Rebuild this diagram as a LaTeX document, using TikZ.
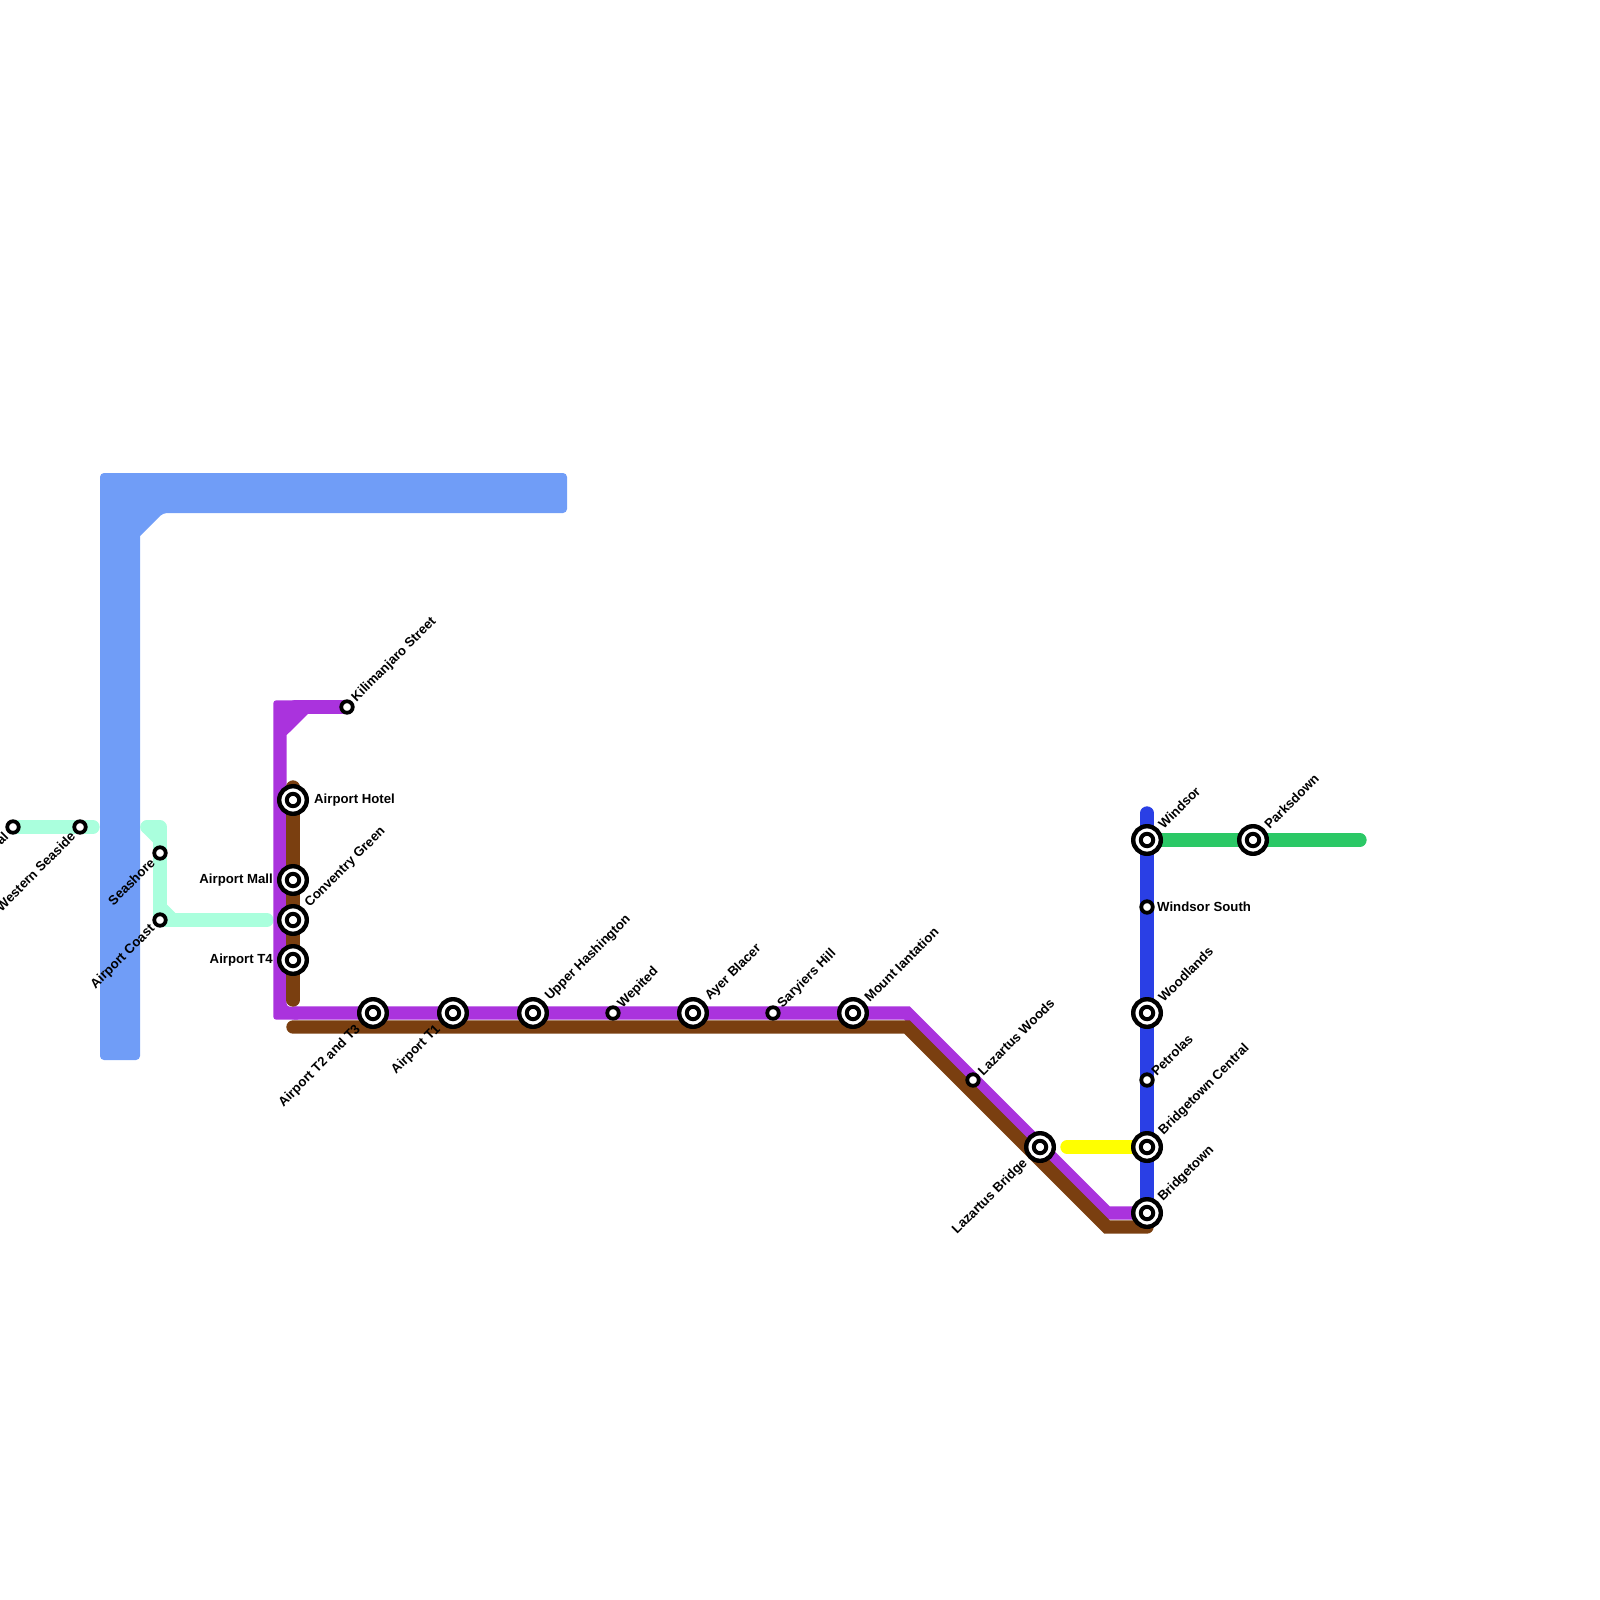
\documentclass[tikz,border=0pt]{standalone}
\usepackage{fontspec}
\usetikzlibrary{calc}
\setmainfont{Liberation Sans}
\definecolor{cblue}{HTML}{709DF7}
\definecolor{cmint}{HTML}{AAFFDD}
\definecolor{cpurple}{HTML}{AA33DD}
\definecolor{cbrown}{HTML}{7A3F10}
\definecolor{cdblue}{HTML}{2A3FE5}
\definecolor{cgreen}{HTML}{2BC866}
\definecolor{cyel}{HTML}{FFFF00}
\pgfdeclarelayer{bg}
\pgfsetlayers{bg,main}
\tikzset{
 route/.style={line width=13.33pt,line cap=round,line join=miter},
 big/.style={circle,draw=black,fill=white,line width=4.4pt,minimum size=27.6pt,inner sep=0pt,
   path picture={\draw[line width=4pt] (path picture bounding box.center) circle (6.2pt);}},
 small/.style={circle,draw=black,fill=white,line width=3.8pt,minimum size=11.5pt,inner sep=0pt},
 lab/.style={font=\bfseries\fontsize{13.2pt}{14pt}\selectfont,inner sep=0pt,text=black},
 ur/.style={lab,rotate=45,anchor=west},
 dl/.style={lab,rotate=45,anchor=east},
}
\begin{document}
\begin{tikzpicture}[x=1pt,y=-1pt]
\useasboundingbox (0,0) rectangle (1600,1600);
\node[small] (w0) at (13,827) {};
\node[small] (w1) at (80,827) {};
\node[small] (sea) at (160,853) {};
\node[small] (ac) at (160,920) {};
\node[big] (ah) at (293,800) {};
\node[big] (am) at (293,880) {};
\node[big] (cg) at (293,920) {};
\node[big] (t4) at (293,960) {};
\node[big] (t2) at (373,1013) {};
\node[big] (t1) at (453,1013) {};
\node[big] (uh) at (533,1013) {};
\node[small] (wp) at (613,1013) {};
\node[big] (ay) at (693,1013) {};
\node[small] (sh) at (773,1013) {};
\node[big] (mi) at (853,1013) {};
\node[small] (lw) at (973,1080) {};
\node[big] (lb) at (1040,1147) {};
\node[big] (bt) at (1147,1213) {};
\node[big] (bc) at (1147,1147) {};
\node[small] (pe) at (1147,1080) {};
\node[big] (wl) at (1147,1013) {};
\node[small] (ws) at (1147,907) {};
\node[big] (wi) at (1147,840) {};
\node[big] (pd) at (1253,840) {};
\node[small] (ki) at (347,707) {};
\coordinate (me) at (93,827);
\coordinate (ms) at (147,827);
\coordinate (mt) at (160,827);
\coordinate (mc) at (160,920);
\coordinate (mf) at (267,920);
\coordinate (dt) at (1147,813);
\coordinate (ge) at (1360,840);
\coordinate (ye) at (1067,1147);
\coordinate (pt) at (295,707);
\coordinate (pb) at (295,1013);
\coordinate (pc1) at (907,1013);
\coordinate (pc2) at (1107,1213);
\coordinate (bb) at (293,1027);
\coordinate (bc1) at (907,1027);
\coordinate (bc2) at (1107,1227);
\coordinate (be) at (1147,1227);
\coordinate (bt0) at (293,787);
\coordinate (bt1) at (293,1000);
\begin{pgfonlayer}{bg}
\fill[cblue,rounded corners=4pt] (100,1060) -- (100,473) -- (567,473) -- (567,513) -- (163,513) [sharp corners] -- (140,536) [rounded corners=4pt] -- (140,1060) -- cycle;
\draw[route,cmint] (w0.center) -- (me);
\draw[route,cmint,line join=round] (ms) -- (mt) -- (mc) -- (mf);
\draw[route,cmint] (ms) -- (160,840);
\draw[route,cmint,line cap=butt] (160,907) -- (173,920);
\draw[route,cgreen] (wi.center) -- (ge);
\draw[route,cyel] (ye) -- (bc.center);
\draw[route,cdblue] (dt) -- (bt.center);
\fill[cpurple,rounded corners=3pt] (309,700.3) -- (273.3,700.3) -- (273.3,1019.7) -- (300,1019.7) -- (300,1006.7) -- (286.7,1006.7) [sharp corners] -- (286.7,735) -- (309,713) -- cycle;
\draw[route,cpurple] (ki.center) -- (pt);
\draw[route,cpurple] (pb) -- (pc1) -- (pc2) -- (bt.center);
\draw[route,cbrown] (bt0) -- (bt1);
\draw[route,cbrown] (bb) -- (bc1) -- (bc2) -- (be);
\end{pgfonlayer}
\node[dl] (l0) at ($(w0)+(-7,7)$) {al};
\node[dl] (l1) at ($(w1)+(-7,7)$) {Western Seaside};
\node[dl] (l2) at ($(sea)+(-7.5,7.5)$) {Seashore};
\node[dl] (l3) at ($(ac)+(-7,7)$) {Airport Coast};
\node[lab,anchor=west] (l4) at ($(ah)+(21,0)$) {Airport Hotel};
\node[lab,anchor=east] (l5) at ($(am)+(-20,0)$) {Airport Mall};
\node[ur] (l6) at ($(cg)+(14.5,-14.5)$) {Conventry Green};
\node[lab,anchor=east] (l7) at ($(t4)+(-20,0)$) {Airport T4};
\node[dl] (l8) at ($(t2)+(-14.5,14.5)$) {Airport T2 and T3};
\node[dl] (l9) at ($(t1)+(-14.5,14.5)$) {Airport T1};
\node[ur] (l10) at ($(uh)+(14.5,-14.5)$) {Upper Hashington};
\node[ur] (l11) at ($(wp)+(7,-7)$) {Wepited};
\node[ur] (l12) at ($(ay)+(14.5,-14.5)$) {Ayer Blacer};
\node[ur] (l13) at ($(sh)+(7,-7)$) {Saryiers Hill};
\node[ur] (l14) at ($(mi)+(13.5,-13.5)$) {Mount Iantation};
\node[ur] (l15) at ($(lw)+(7,-7)$) {Lazartus Woods};
\node[dl] (l16) at ($(lb)+(-14.5,14.5)$) {Lazartus Bridge};
\node[ur] (l17) at ($(bt)+(13.5,-13.5)$) {Bridgetown};
\node[ur] (l18) at ($(bc)+(14,-14)$) {Bridgetown Central};
\node[ur] (l19) at ($(pe)+(6.5,-6.5)$) {Petrolas};
\node[ur] (l20) at ($(wl)+(13.5,-13.5)$) {Woodlands};
\node[lab,anchor=west] (l21) at ($(ws)+(10,0)$) {Windsor South};
\node[ur] (l22) at ($(wi)+(13.5,-13.5)$) {Windsor};
\node[ur] (l23) at ($(pd)+(13.5,-13.5)$) {Parksdown};
\node[ur] (l24) at ($(ki)+(7,-7)$) {Kilimanjaro Street};
\end{tikzpicture}
\end{document}
